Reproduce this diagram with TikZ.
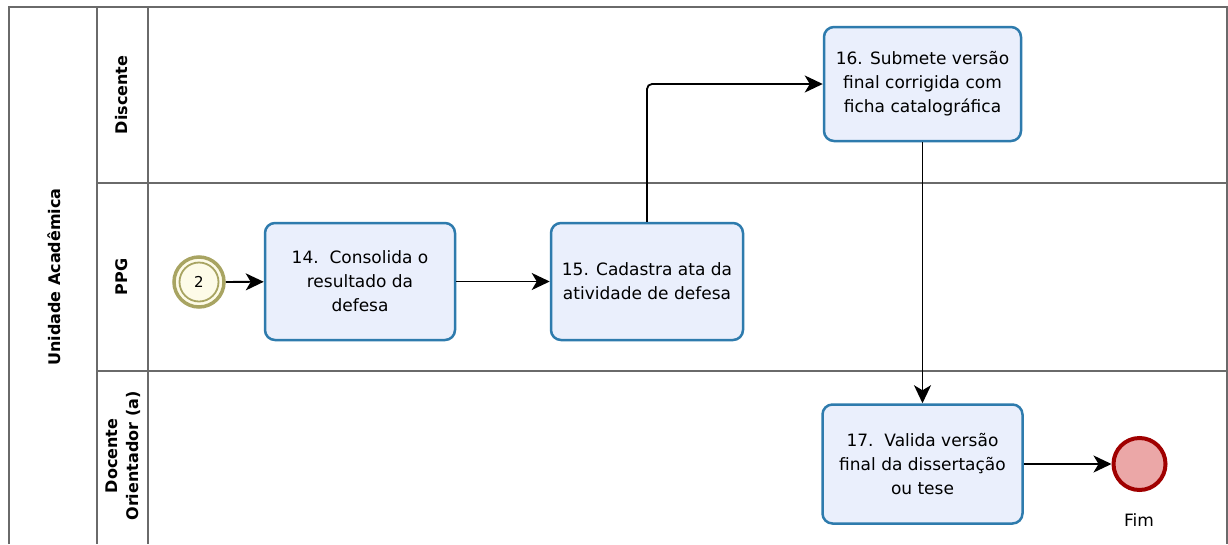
\documentclass[tikz,border=0pt]{standalone}
\usepackage{fontspec}
\setmainfont{DejaVu Sans}
\usetikzlibrary{arrows.meta}
\definecolor{taskfill}{HTML}{EAEFFC}
\definecolor{taskline}{HTML}{2E7BAD}
\definecolor{startline}{HTML}{A8A462}
\definecolor{startfill}{HTML}{FDFBE8}
\definecolor{endline}{HTML}{A00000}
\definecolor{endfill}{HTML}{EBA7A7}
\definecolor{laneline}{HTML}{6A6A6A}
\begin{document}
\begin{tikzpicture}[x=1pt,y=-1pt,
  task/.style={draw=taskline, fill=taskfill, line width=2.5pt, rounded corners=10pt,
    align=center, font=\fontsize{17}{24}\selectfont, inner sep=0pt},
  flow/.style={line width=1.8pt, -{Stealth[length=18pt,width=17pt,inset=5pt]}},
  lane/.style={draw=laneline, line width=1.8pt},
  lanelabel/.style={rotate=90, font=\bfseries\fontsize{16}{21}\selectfont, align=center}]
\useasboundingbox (0,0) rectangle (1228,544);
\fill[white] (0,0) rectangle (1228,544);
% pool and lanes
\draw[lane] (9,544) -- (9,7) -- (1227,7) -- (1227,544);
\draw[lane] (97,7) -- (97,544);
\draw[lane] (148,7) -- (148,544);
\draw[lane] (97,183) -- (1227,183);
\draw[lane] (97,371) -- (1227,371);
\node[lanelabel] (pool) at (54,277) {Unidade Acadêmica};
\node[lanelabel] (l1) at (122,95) {Discente};
\node[lanelabel] (l2) at (122,277) {PPG};
\node[lanelabel] (l3) at (123,456) {Docente\\Orientador (a)};
% events
\node[circle, draw=startline, fill=startfill, line width=3.5pt, minimum size=50pt, inner sep=0pt] (start) at (199,282) {};
\draw[startline, line width=1.8pt] (start.center) circle[radius=19.5];
\node[font=\fontsize{15}{17}\selectfont] (startlbl) at (start.center) {2};
\node[circle, draw=endline, fill=endfill, line width=4pt, minimum size=52pt, inner sep=0pt] (end) at (1139.5,464) {};
\node[font=\fontsize{17}{20}\selectfont] (fim) at (1139,520) {Fim};
% tasks
\node[task, minimum width=190pt, minimum height=117pt] (t14) at (360,281.5) {14.\ \ Consolida o\\resultado da\\defesa};
\node[task, minimum width=192pt, minimum height=117pt] (t15) at (647,281.5) {15. Cadastra ata da\\atividade de defesa};
\node[task, minimum width=197pt, minimum height=114pt] (t16) at (922.5,84) {16. Submete versão\\final corrigida com\\ficha catalográfica};
\node[task, minimum width=200pt, minimum height=119pt] (t17) at (922.5,464) {17.\ \ Valida versão\\final da dissertação\\ou tese};
% flows
\draw[flow] (start) -- (t14);
\draw[flow] (t14) -- (t15);
\draw[flow, rounded corners=5pt] (t15.north) |- (t16.west);
\draw[flow] (t16) -- (t17);
\draw[flow] (t17) -- (end);
\end{tikzpicture}
\end{document}
